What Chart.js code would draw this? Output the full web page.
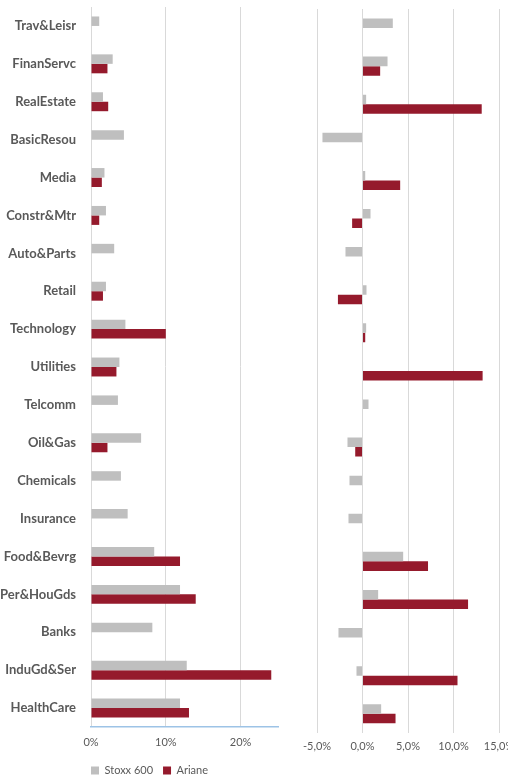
<!DOCTYPE html>
<html>
<head>
<meta charset="utf-8">
<script src="https://cdn.jsdelivr.net/npm/chart.js@4"></script>
<style>
  body { margin: 0; background: #fff; overflow: hidden; width: 508px; height: 780px; position: relative; }
  #leftBox { position: absolute; left: 0; top: 0; width: 290px; height: 780px; }
  #rightBox { position: absolute; left: 290px; top: 0; width: 240px; height: 780px; }
</style>
</head>
<body>
<div id="leftBox"><canvas id="leftChart"></canvas></div>
<div id="rightBox"><canvas id="rightChart"></canvas></div>
<script>
var sectors = ['Trav&Leisr', 'FinanServc', 'RealEstate', 'BasicResou', 'Media', 'Constr&Mtr', 'Auto&Parts',
    'Retail', 'Technology', 'Utilities', 'Telcomm', 'Oil&Gas', 'Chemicals', 'Insurance', 'Food&Bevrg',
    'Per&HouGds', 'Banks', 'InduGd&Ser', 'HealthCare'];

// weights (%)
var stoxxWeight = [1.1, 2.9, 1.6, 4.4, 1.8, 2.0, 3.1, 2.0, 4.6, 3.8, 3.6, 6.7, 4.0, 4.9, 8.45, 11.9, 8.2, 12.8, 11.9];
var arianeWeight = [null, 2.2, 2.3, null, 1.45, 1.1, null, 1.6, 10.0, 3.4, null, 2.2, null, null, 11.9, 14.0, null, 24.1, 13.1];

// performance (%)
var stoxxPerf = [3.33, 2.75, 0.4, -4.4, 0.3, 0.88, -1.87, 0.44, 0.4, 0.06, 0.66, -1.65, -1.43, -1.54, 4.47, 1.72, -2.64, -0.66, 2.05];
var arianePerf = [null, 1.94, 13.1, null, 4.14, -1.14, null, -2.7, 0.3, 13.2, null, -0.8, null, null, 7.2, 11.6, null, 10.44, 3.63];

var leftTicks = [0, 10, 20];
var rightTicks = [-5, 0, 5, 10, 15];

var grey = '#BFBFBF';
var red = '#951A2C';
var textColor = '#595959';
var gridColor = '#D9D9D9';
var fontFamily = 'Lato, "Open Sans", sans-serif';

function makeDatasets(a, b) {
    return [
        { label: 'Stoxx 600', data: a, backgroundColor: grey, categoryPercentage: 0.5, barPercentage: 1 },
        { label: 'Ariane', data: b, backgroundColor: red, categoryPercentage: 0.5, barPercentage: 1 }
    ];
}

// nudge the legend so it starts on the 0% line
var legendShift = {
    id: 'legendShift',
    afterLayout: function (chart) {
        if (chart.legend) {
            chart.legend.left -= 10;
            chart.legend.right -= 10;
            chart.legend.top += 6;
            chart.legend.bottom += 6;
        }
    }
};

new Chart(document.getElementById('leftChart').getContext('2d'), {
    type: 'bar',
    data: { labels: sectors, datasets: makeDatasets(stoxxWeight, arianeWeight) },
    options: {
        indexAxis: 'y',
        responsive: true,
        maintainAspectRatio: false,
        animation: false,
        layout: { padding: { top: 7, right: 12, bottom: 0, left: 0 } },
        plugins: {
            legend: {
                position: 'bottom',
                align: 'start',
                fullSize: false,
                labels: { boxWidth: 8, boxHeight: 8, padding: 10, color: textColor, font: { family: fontFamily, size: 11 } }
            },
            tooltip: { enabled: false }
        },
        scales: {
            x: {
                min: 0,
                max: 25,
                afterBuildTicks: function (scale) {
                    scale.ticks = leftTicks.map(function (v) { return { value: v }; });
                },
                afterFit: function (scale) { scale.height = 22; },
                grid: { color: gridColor, drawTicks: false },
                border: { display: true, color: '#9DC3E6', width: 1.5 },
                ticks: {
                    padding: 9,
                    color: textColor,
                    font: { family: fontFamily, size: 11 },
                    callback: function (v) { return v + '%'; }
                }
            },
            y: {
                afterFit: function (scale) {
                    scale.width = 91;
                    scale.paddingTop = 0;
                    scale.paddingBottom = 0;
                },
                grid: { display: false, drawTicks: false },
                border: { display: false },
                ticks: { padding: 15, color: textColor, font: { family: fontFamily, size: 13, weight: 'bold' } }
            }
        }
    },
    plugins: [legendShift]
});

new Chart(document.getElementById('rightChart').getContext('2d'), {
    type: 'bar',
    data: { labels: sectors, datasets: makeDatasets(stoxxPerf, arianePerf) },
    options: {
        indexAxis: 'y',
        responsive: true,
        maintainAspectRatio: false,
        animation: false,
        layout: { padding: { top: 9, right: 31, bottom: 20, left: 27 } },
        plugins: { legend: { display: false }, tooltip: { enabled: false } },
        scales: {
            x: {
                min: -5,
                max: 15,
                afterBuildTicks: function (scale) {
                    scale.ticks = rightTicks.map(function (v) { return { value: v }; });
                },
                grid: { color: gridColor, drawTicks: false },
                border: { display: false },
                ticks: {
                    padding: 7,
                    color: textColor,
                    font: { family: fontFamily, size: 11 },
                    callback: function (v) { return v.toFixed(1).replace('.', ',') + '%'; }
                }
            },
            y: { display: false }
        }
    }
});
</script>
</body>
</html>
